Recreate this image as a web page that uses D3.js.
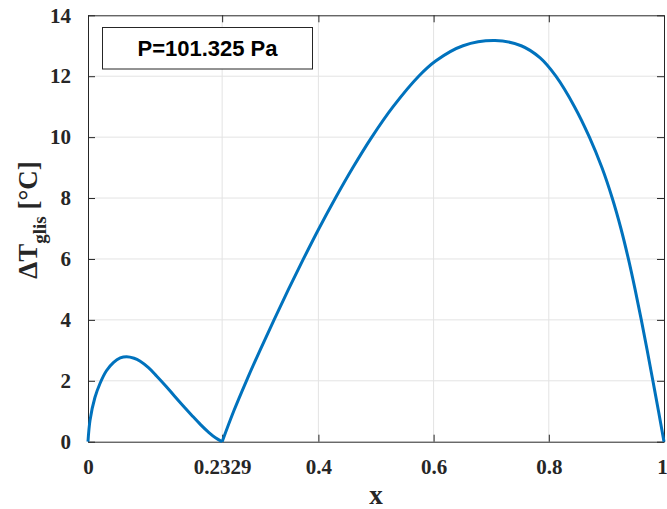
<!DOCTYPE html>
<html>
<head>
<meta charset="utf-8">
<script src="https://cdn.jsdelivr.net/npm/d3@7"></script>
<style>
  body { margin: 0; background: #fff; }
  svg { display: block; }
  .tick text { font-family: "Liberation Serif", "Times New Roman", serif; font-weight: bold; font-size: 21px; fill: #262626; }
</style>
</head>
<body>
<div id="chart"></div>
<script>
// data
var xTicks = [0, 0.2329, 0.4, 0.6, 0.8, 1];
var xTickLabels = ["0", "0.2329", "0.4", "0.6", "0.8", "1"];
var yTicks = [0, 2, 4, 6, 8, 10, 12, 14];

// left branch, x = 0 .. 0.2329
var x1 = [0, 0.0035, 0.012, 0.021, 0.032, 0.044, 0.056, 0.067, 0.08, 0.09, 0.105, 0.119, 0.135, 0.15, 0.165, 0.18, 0.195, 0.21, 0.222, 0.2329];
var y1 = [0, 0.7, 1.45, 1.92, 2.33, 2.6, 2.75, 2.79, 2.74, 2.65, 2.43, 2.16, 1.83, 1.5, 1.18, 0.87, 0.57, 0.3, 0.12, 0];

// right branch, x = 0.2329 .. 1
var x2 = [0.2329, 0.2529, 0.2751, 0.2986, 0.323, 0.348, 0.374, 0.401, 0.4296, 0.4599, 0.4927, 0.5297, 0.5741, 0.6035, 0.6511, 0.7066, 0.752, 0.785, 0.8123, 0.8446, 0.8705, 0.8922, 0.9101, 0.9252, 0.9382, 0.9498, 0.9606, 0.9708, 0.9807, 0.9905, 1];
var y2 = [0, 1, 2, 3, 4, 5, 6, 7, 8, 9, 10, 11, 12, 12.5, 13.0, 13.17, 13.0, 12.6, 12, 11, 10, 9, 8, 7, 6, 5, 4, 3, 2, 1, 0];

var svgWidth = 667, svgHeight = 509;
var margin = { top: 15.3, right: 3, bottom: 67.3, left: 88 };
var width = svgWidth - margin.left - margin.right;
var height = svgHeight - margin.top - margin.bottom;

var svg = d3.select("#chart").append("svg")
  .attr("width", svgWidth)
  .attr("height", svgHeight);

var g = svg.append("g")
  .attr("transform", `translate(${margin.left}, ${margin.top})`);

var xScale = d3.scaleLinear().domain([0, 1]).range([0, width]);
var yScale = d3.scaleLinear().domain([0, 14]).range([height, 0]);

// grid
g.append("g").selectAll("line").data(xTicks.slice(1, -1)).enter().append("line")
  .attr("x1", d => xScale(d)).attr("x2", d => xScale(d))
  .attr("y1", 0).attr("y2", height)
  .attr("stroke", "#e3e3e3").attr("stroke-width", 1);
g.append("g").selectAll("line").data(yTicks.slice(1, -1)).enter().append("line")
  .attr("y1", d => yScale(d)).attr("y2", d => yScale(d))
  .attr("x1", 0).attr("x2", width)
  .attr("stroke", "#e3e3e3").attr("stroke-width", 1);

// axes
var bottomAxis = d3.axisBottom(xScale).tickValues(xTicks)
  .tickFormat((d, i) => xTickLabels[i]).tickSizeInner(-7).tickSizeOuter(0).tickPadding(17);
var leftAxis = d3.axisLeft(yScale).tickValues(yTicks)
  .tickSizeInner(-7).tickSizeOuter(0).tickPadding(17);
var topAxis = d3.axisTop(xScale).tickValues(xTicks).tickFormat("").tickSizeInner(-7).tickSizeOuter(0);
var rightAxis = d3.axisRight(yScale).tickValues(yTicks).tickFormat("").tickSizeInner(-7).tickSizeOuter(0);

var xAxisG = g.append("g").attr("transform", `translate(0, ${height})`).call(bottomAxis);
xAxisG.selectAll(".tick text").filter(d => d === 1).attr("dx", -2);
g.append("g").call(leftAxis);
g.append("g").call(topAxis);
g.append("g").attr("transform", `translate(${width}, 0)`).call(rightAxis);
g.selectAll(".domain").attr("stroke", "#262626");
g.selectAll(".tick line").attr("stroke", "#262626");

// curve
var line = d3.line()
  .x(d => xScale(d[0]))
  .y(d => yScale(d[1]))
  .curve(d3.curveCatmullRom.alpha(0.5));

[[x1, y1], [x2, y2]].forEach(function(s) {
  g.append("path")
    .datum(s[0].map((v, i) => [v, s[1][i]]))
    .attr("fill", "none")
    .attr("stroke", "#0072BD")
    .attr("stroke-width", 3)
    .attr("stroke-linejoin", "round")
    .attr("d", line);
});

// legend box
g.append("rect")
  .attr("x", 102.5 - margin.left).attr("y", 27.5 - margin.top)
  .attr("width", 210).attr("height", 41.5)
  .attr("fill", "#fff").attr("stroke", "#262626").attr("stroke-width", 1);
g.append("text")
  .attr("x", 207.5 - margin.left).attr("y", 56 - margin.top)
  .attr("text-anchor", "middle")
  .attr("font-family", "Liberation Sans, Arial, sans-serif")
  .attr("font-weight", "bold").attr("font-size", 22)
  .text("P=101.325 Pa");

// axis labels
svg.append("text")
  .attr("x", margin.left + width / 2).attr("y", 504)
  .attr("text-anchor", "middle")
  .attr("font-family", "Liberation Serif, serif").attr("font-weight", "bold")
  .attr("font-size", 27).attr("fill", "#262626")
  .text("x");

var yl = svg.append("text")
  .attr("transform", "translate(37, 220) rotate(-90)")
  .attr("text-anchor", "middle")
  .attr("font-family", "Liberation Serif, serif").attr("font-weight", "bold")
  .attr("font-size", 27).attr("fill", "#262626");
yl.append("tspan").text("ΔT");
yl.append("tspan").attr("font-size", 19).attr("dy", 9).text("glis");
yl.append("tspan").attr("dy", -9).text(" [°C]");
</script>
</body>
</html>
